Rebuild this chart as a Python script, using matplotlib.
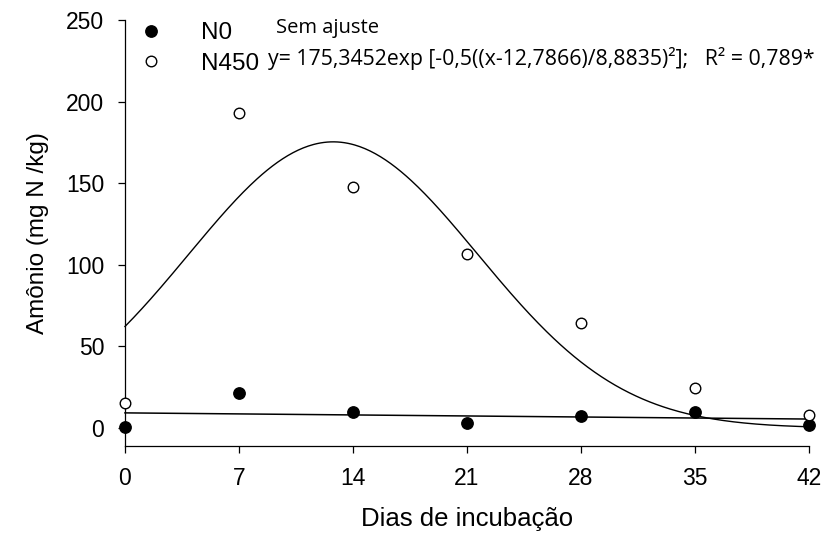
import numpy as np
import matplotlib
matplotlib.use("Agg")
import matplotlib.pyplot as plt
from matplotlib.lines import Line2D

# Data
days = [0, 7, 14, 21, 28, 35, 42]
n0 = [0.8, 21.5, 10.0, 3.0, 7.5, 10.0, 2.0]
n450 = [15.5, 193.0, 147.5, 106.5, 64.5, 24.8, 8.0]
xticks = [0, 7, 14, 21, 28, 35, 42]
yticks = [0, 50, 100, 150, 200, 250]

# Fitted models
gauss_a, gauss_x0, gauss_b = 175.3452, 12.7866, 8.8835
lin_a, lin_b = 9.3, -0.09

plt.rcParams['font.family'] = ['Liberation Sans', 'DejaVu Sans']

fig = plt.figure(figsize=(8.26, 5.33), dpi=100)
ax = fig.add_axes([0.1513, 0.1632, 0.9794 - 0.1513, 0.9625 - 0.1632])

xs = np.linspace(0, 42, 400)
ax.plot(xs, gauss_a * np.exp(-0.5 * ((xs - gauss_x0) / gauss_b) ** 2), color='black', lw=1.0, clip_on=False)
ax.plot(xs, lin_a + lin_b * xs, color='black', lw=1.1, clip_on=False)

ax.plot(days, n0, 'o', color='black', ms=8.2, clip_on=False, zorder=5, label='N0')
ax.plot(days, n450, 'o', mfc='white', mec='black', mew=1.0, ms=7.6, clip_on=False, zorder=5, label='N450')

ax.set_xlim(0, 42)
ax.set_ylim(-11, 250)
ax.set_xticks(xticks)
ax.set_yticks(yticks)
ax.spines['top'].set_visible(False)
ax.spines['right'].set_visible(False)
for s in ('left', 'bottom'):
    ax.spines[s].set_linewidth(0.9)
ax.tick_params(axis='both', direction='out', length=5, width=0.9, pad=10)
ax.tick_params(axis='x', labelsize=16.5)
ax.tick_params(axis='y', labelsize=16.5)

ax.set_xlabel('Dias de incubação', fontsize=18.5, labelpad=12)
ax.set_ylabel('Amônio (mg N /kg)', fontsize=17.5, labelpad=12)

h0 = Line2D([], [], marker='o', color='black', ls='none', ms=8.2)
h1 = Line2D([], [], marker='o', mfc='white', mec='black', mew=1.0, ls='none', ms=7.6)
fig.legend([h0, h1], ['N0', 'N450'], loc='upper left', bbox_to_anchor=(140 / 826, 1 - 22 / 533),
           frameon=False, fontsize=17.5, handlelength=0.9, handletextpad=1.6,
           labelspacing=0.35, borderpad=0, borderaxespad=0)

fig.text(276 / 826, 1 - 33 / 533, 'Sem ajuste', fontsize=14.5, family=['Open Sans', 'DejaVu Sans'])
fig.text(268 / 826, 1 - 65 / 533,
         'y= 175,3452exp [-0,5((x-12,7866)/8,8835)²];   R² = 0,789*',
         fontsize=15.3, family=['Open Sans', 'DejaVu Sans'])

fig.savefig('out.png', dpi=100)
